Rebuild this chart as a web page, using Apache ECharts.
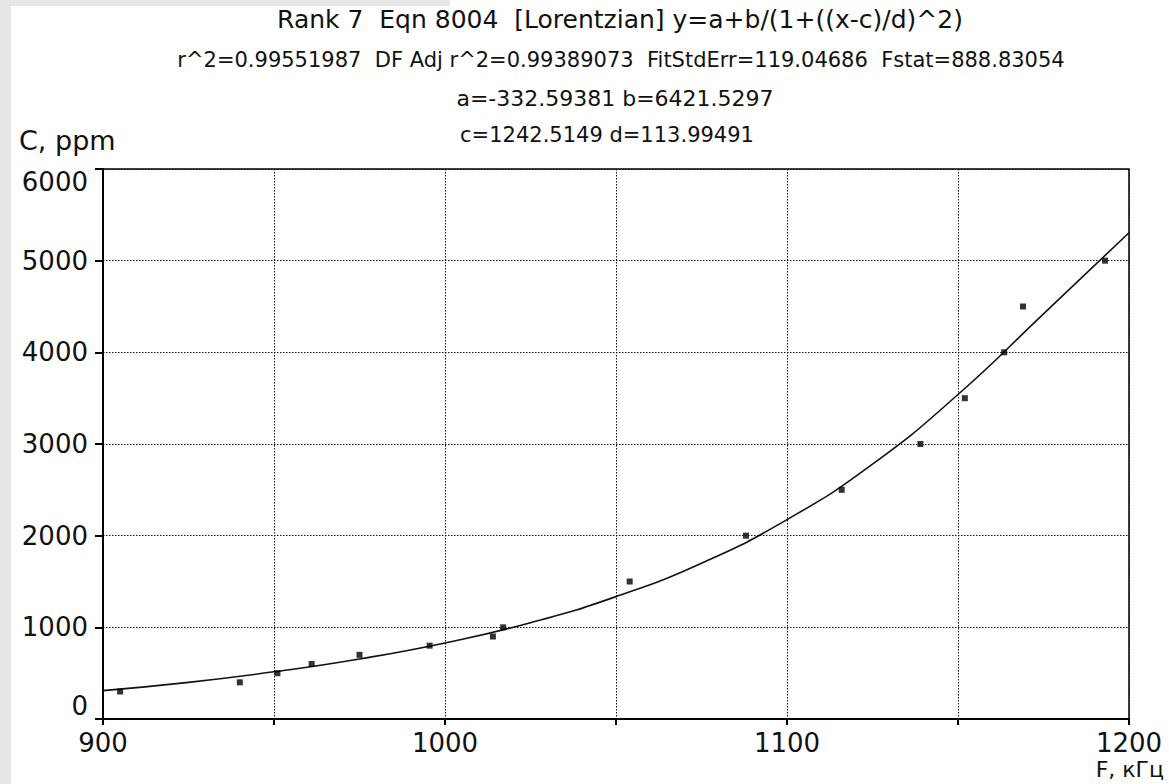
<!DOCTYPE html>
<html>
<head>
<meta charset="utf-8">
<script src="https://cdn.jsdelivr.net/npm/echarts@6/dist/echarts.min.js"></script>
<style>
  html, body { margin: 0; padding: 0; background: #ffffff; }
  #leftStrip { position: absolute; left: 0; top: 0; width: 11px; height: 784px; background: #e6e6e6; }
  #topStrip { position: absolute; left: 0; top: 0; width: 450px; height: 6px; background: #e6e6e6; }
  #chart { position: absolute; left: 0; top: 0; width: 1169px; height: 784px; }
</style>
</head>
<body>
<div id="leftStrip"></div>
<div id="topStrip"></div>
<div id="chart"></div>
<script>
// Measured points: frequency F (kHz) and concentration C (ppm)
const measF = [905, 940, 951, 961, 975, 995.5, 1014, 1017, 1054, 1088, 1116, 1139, 1152, 1163.5, 1169, 1193];
const measC = [300, 400, 500, 600, 700, 800, 900, 1000, 1500, 2000, 2500, 3000, 3500, 4000, 4500, 5000];

// Fitted curve
const fitF = [900, 925, 950, 975, 1000, 1025, 1050, 1075, 1100, 1125, 1150, 1175, 1200];
const fitC = [310, 400, 515, 655, 830, 1050, 1335, 1700, 2175, 2780, 3540, 4420, 5305];

// Axis ticks
const xTicks = [900, 1000, 1100, 1200];
const yTicks = [0, 1000, 2000, 3000, 4000, 5000, 6000];

// Header texts
const headerLines = [
  'Rank 7  Eqn 8004  [Lorentzian] y=a+b/(1+((x-c)/d)^2)',
  'r^2=0.99551987  DF Adj r^2=0.99389073  FitStdErr=119.04686  Fstat=888.83054',
  'a=-332.59381 b=6421.5297',
  'c=1242.5149 d=113.99491'
];
const yName = 'C, ppm';
const xName = 'F, кГц';

const FONT = 'DejaVu Sans';
const chart = echarts.init(document.getElementById('chart'), null, { renderer: 'svg' });

const headerY = [19, 60, 98, 135];
const headerX = [620, 621, 615, 607];
const headerSize = [25, 21, 22, 21];
const titles = headerLines.map((t, i) => ({
  text: t,
  left: headerX[i],
  top: headerY[i],
  textAlign: 'center',
  textVerticalAlign: 'middle',
  padding: 0,
  textStyle: { fontFamily: FONT, fontSize: headerSize[i], fontWeight: 'normal', color: '#111' }
}));
titles.push({
  text: yName, left: 19, top: 140, textVerticalAlign: 'middle', textAlign: 'left', padding: 0,
  textStyle: { fontFamily: FONT, fontSize: 27, fontWeight: 'normal', color: '#111' }
});
titles.push({
  text: xName, left: 1164, top: 769, textVerticalAlign: 'middle', textAlign: 'right', padding: 0,
  textStyle: { fontFamily: FONT, fontSize: 22, fontWeight: 'normal', color: '#111' }
});

chart.setOption({
  animation: false,
  backgroundColor: 'transparent',
  title: titles,
  grid: { left: 103, right: 40, top: 169, bottom: 65, show: true, borderColor: '#000', borderWidth: 1.5, containLabel: false },
  xAxis: {
    type: 'value', min: 900, max: 1200, interval: 50,
    axisLine: { show: true, onZero: false, lineStyle: { color: '#000', width: 2 } },
    axisTick: { show: true, length: 6, lineStyle: { color: '#000', width: 2 } },
    axisLabel: {
      fontFamily: FONT, fontSize: 26, color: '#111', margin: 11,
      formatter: v => xTicks.includes(v) ? String(v) : ''
    },
    splitLine: { show: true, lineStyle: { color: '#111', type: [1.5, 1.5], width: 1 } }
  },
  yAxis: {
    type: 'value', min: 0, max: 6000, interval: 1000,
    axisLine: { show: true, lineStyle: { color: '#000', width: 2 } },
    axisTick: { show: true, length: 8, lineStyle: { color: '#000', width: 2 } },
    axisLabel: {
      fontFamily: FONT, fontSize: 26, color: '#111', margin: 15,
      verticalAlignMinLabel: 'bottom',
      verticalAlignMaxLabel: 'top',
      formatter: v => yTicks.includes(v) ? String(v) : ''
    },
    splitLine: { show: true, lineStyle: { color: '#111', type: [1.5, 1.5], width: 1 } }
  },
  series: [
    {
      name: 'fit', type: 'line', smooth: true, showSymbol: false, symbol: 'none',
      lineStyle: { color: '#111', width: 1.6 },
      data: fitF.map((f, i) => [f, fitC[i]]),
      z: 2
    },
    {
      name: 'data', type: 'scatter', symbol: 'rect', symbolSize: 6,
      itemStyle: { color: '#000' },
      data: measF.map((f, i) => [f, measC[i]]),
      z: 3
    }
  ]
});
</script>
</body>
</html>
